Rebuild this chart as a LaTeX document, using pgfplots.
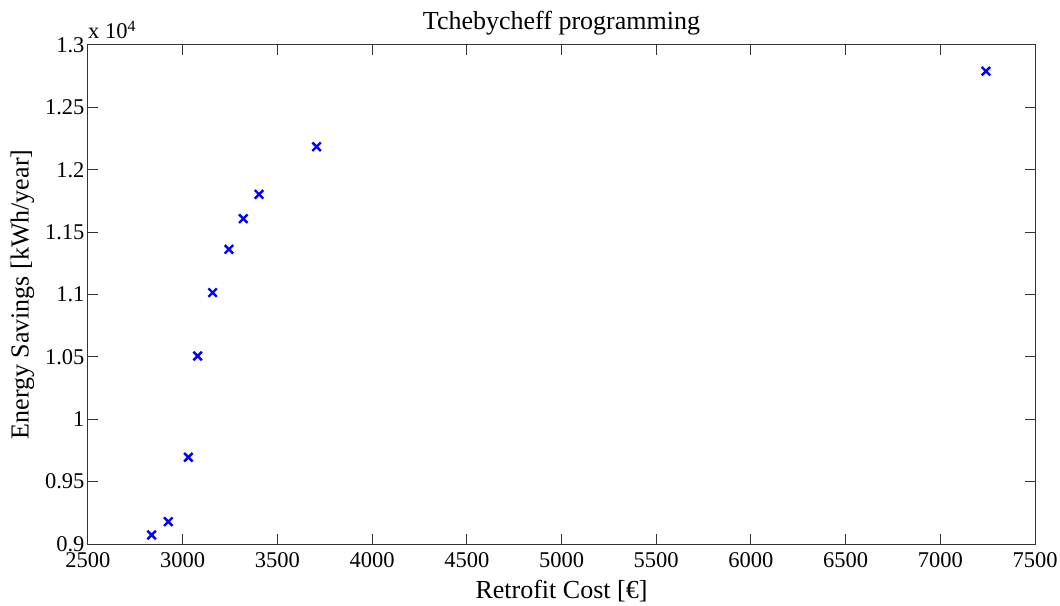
\documentclass[border=0pt]{standalone}
\usepackage{fontspec}
\setmainfont{Liberation Serif}
\usepackage{pgfplots}
\pgfplotsset{compat=1.18}
\begin{document}
\begin{tikzpicture}[x=1pt,y=1pt]
\useasboundingbox (-88,-61) rectangle (972,544);
\begin{axis}[scale only axis, width=947pt, height=499pt, at={(0,0)}, anchor=south west,
 xmin=2500,xmax=7500, ymin=9000,ymax=13000,
 xtick={2500,3000,...,7500}, ytick={9000,9500,...,13000},
 yticklabels={0.9,0.95,1,1.05,1.1,1.15,1.2,1.25,1.3},
 scaled ticks=false,
 /pgf/number format/.cd, 1000 sep={}, assume math mode=true, /pgfplots/.cd,
 tick align=inside, major tick length=10pt,
 ticklabel style={font=\fontsize{22.5}{25}\selectfont},
 xticklabel style={yshift=-5pt},
 label style={font=\fontsize{26}{30}\selectfont},
 xlabel style={yshift=-6pt},
 ylabel style={yshift=4pt},
 title style={font=\fontsize{26}{30}\selectfont},
 title={Tchebycheff programming},
 xlabel={Retrofit Cost [€]}, ylabel={Energy Savings [kWh/year]},
 axis line style={line width=1pt, black!80}, tick style={line width=1pt, black!80},
 clip=false,
 ]
 \addplot[only marks, mark=x, mark size=6pt, blue, mark options={line width=2.4pt}] coordinates {
 (2836,9072) (2924,9179) (3030,9695) (3079,10507) (3158,11015)
 (3244,11362) (3320,11608) (3403,11803) (3707,12185) (7241,12790)
 };
 \node[anchor=south west, inner sep=0pt, font=\fontsize{22.5}{25}\selectfont] at (rel axis cs:0,1) [yshift=6pt] {x 10\textsuperscript{4}};
\end{axis}
\end{tikzpicture}
\end{document}
